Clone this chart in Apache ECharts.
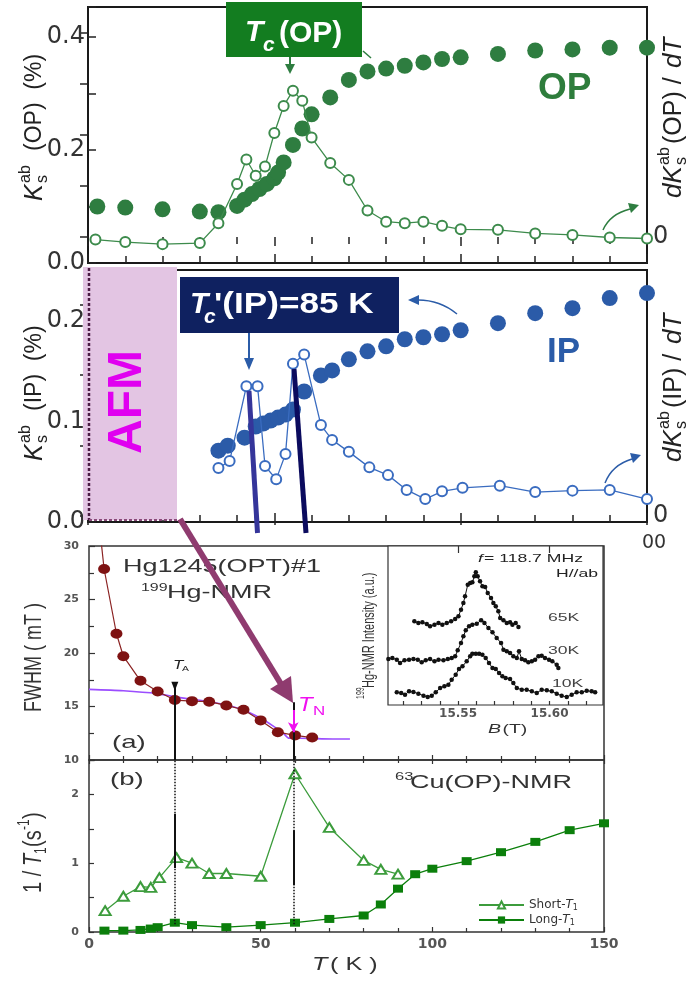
<!DOCTYPE html>
<html><head><meta charset="utf-8">
<script src="https://cdn.jsdelivr.net/npm/echarts@6.0.0/dist/echarts.min.js"></script>
<style>html,body{margin:0;padding:0;background:#fff}#c{width:699px;height:988px}</style>
</head><body><div id="c"></div>
<script>
// ---------- data ----------
const opT  = [5, 20, 40, 60, 70, 80, 84, 88, 92, 96, 100, 102, 105, 110, 115, 120, 130, 140, 150, 160, 170, 180, 190, 200, 220, 240, 260, 280, 300];
const opK  = [0.100, 0.098, 0.095, 0.091, 0.090, 0.101, 0.112, 0.122, 0.131, 0.140, 0.150, 0.160, 0.178, 0.209, 0.238, 0.263, 0.293, 0.324, 0.339, 0.344, 0.349, 0.355, 0.361, 0.364, 0.370, 0.376, 0.378, 0.381, 0.381];
const opdT = [4, 20, 40, 60, 70, 80, 85, 90, 95, 100, 105, 110, 115, 120, 130, 140, 150, 160, 170, 180, 190, 200, 220, 240, 260, 280, 300];
const opdK = [-0.05, -0.10, -0.14, -0.12, 0.27, 1.04, 1.52, 1.20, 1.38, 2.04, 2.57, 2.87, 2.67, 1.95, 1.45, 1.12, 0.52, 0.30, 0.27, 0.30, 0.22, 0.15, 0.14, 0.07, 0.04, -0.01, -0.03];
const ipT  = [70, 75, 84, 90, 94, 98, 102, 106, 110, 116, 125, 131, 140, 150, 160, 170, 180, 190, 200, 220, 240, 260, 280, 300];
const ipK  = [0.071, 0.076, 0.084, 0.095, 0.098, 0.101, 0.104, 0.107, 0.112, 0.130, 0.146, 0.151, 0.162, 0.170, 0.175, 0.182, 0.184, 0.187, 0.191, 0.198, 0.208, 0.213, 0.223, 0.228];
const ipdT = [70, 76, 85, 91, 95, 101, 106, 110, 116, 125, 131, 140, 151, 161, 171, 181, 190, 201, 221, 240, 260, 280, 300];
const ipdK = [0.68, 0.78, 1.84, 1.84, 0.71, 0.52, 0.88, 2.16, 2.29, 1.29, 1.08, 0.91, 0.69, 0.58, 0.37, 0.24, 0.35, 0.40, 0.43, 0.34, 0.36, 0.37, 0.24];
const fwT  = [2, 4.4, 8, 10, 15, 20, 25, 30, 35, 40, 45, 50, 55, 60, 65];
const fwV  = [35, 27.85, 21.8, 19.7, 17.4, 16.4, 15.6, 15.5, 15.45, 15.1, 14.7, 13.7, 12.6, 12.3, 12.1];
const fitT = [0, 10, 20, 25, 30, 35, 40, 45, 50, 54, 56.6, 58.3, 61.4, 71, 76];
const fitV = [16.6, 16.47, 16.2, 15.9, 15.67, 15.45, 15.14, 14.67, 13.9, 13.1, 12.5, 12.03, 12.03, 11.96, 11.96];
const shT  = [4.7, 10, 15, 18, 20.5, 25.5, 30, 35, 40, 50, 60, 70, 80, 85, 90];
const shV  = [0.31, 0.52, 0.66, 0.65, 0.79, 1.08, 1.0, 0.85, 0.85, 0.81, 2.30, 1.52, 1.04, 0.91, 0.84];
const loT  = [4.5, 10, 15, 18, 20, 25, 30, 40, 50, 60, 70, 80, 85, 90, 95, 100, 110, 120, 130, 140, 150];
const loV  = [0.02, 0.02, 0.03, 0.05, 0.07, 0.135, 0.10, 0.07, 0.10, 0.135, 0.19, 0.24, 0.40, 0.63, 0.84, 0.92, 1.03, 1.16, 1.31, 1.48, 1.58];
const b65 = [15.5261, 15.5283, 15.5305, 15.5329, 15.5347, 15.5371, 15.5393, 15.5414, 15.5438, 15.5462, 15.5484, 15.5502, 15.5516, 15.5529, 15.5538, 15.5553, 15.5566, 15.5578, 15.5589, 15.5597, 15.5607, 15.5620, 15.5633, 15.5648, 15.5662, 15.5680, 15.5693, 15.5706, 15.5720, 15.5730, 15.5748, 15.5766, 15.5784, 15.5797, 15.5815, 15.5830];
const i65 = [83.7, 82, 82.7, 81, 78.7, 80.3, 82, 80.3, 82, 83.7, 86, 88.7, 95.3, 102, 108.7, 120.3, 122, 122.7, 128.7, 132.7, 128.7, 123.7, 118.7, 118, 112, 107, 102, 98.7, 93.7, 87, 84.7, 82, 82.7, 80.3, 82, 78];
const b30 = [15.5119, 15.5141, 15.5165, 15.5183, 15.5207, 15.5232, 15.5256, 15.5280, 15.5301, 15.5323, 15.5347, 15.5371, 15.5393, 15.5420, 15.5444, 15.5465, 15.5484, 15.5498, 15.5516, 15.5529, 15.5542, 15.5560, 15.5578, 15.5602, 15.5626, 15.5644, 15.5666, 15.5688, 15.5711, 15.5735, 15.5748, 15.5766, 15.5784, 15.5802, 15.5821, 15.5833, 15.5848, 15.5866, 15.5884, 15.5903, 15.5921, 15.5939, 15.5957, 15.5975, 15.5997, 15.6015, 15.6039, 15.6048];
const i30 = [46, 47, 45.3, 42, 44.7, 45.3, 46, 45.3, 42.7, 44.7, 46, 43.7, 45.3, 44.7, 46, 47, 48.7, 54.7, 62, 68.7, 74.7, 78.7, 80.3, 81.3, 84.7, 82, 77, 72.7, 67, 62, 55.3, 53.7, 52, 48.7, 47, 53.7, 46, 44.7, 42.7, 43.7, 45.3, 48.7, 49.3, 47, 45.3, 43.7, 40.3, 37];
const b10 = [15.5165, 15.5189, 15.5210, 15.5232, 15.5256, 15.5283, 15.5311, 15.5334, 15.5356, 15.5378, 15.5402, 15.5425, 15.5447, 15.5465, 15.5487, 15.5505, 15.5524, 15.5547, 15.5566, 15.5578, 15.5597, 15.5615, 15.5633, 15.5651, 15.5669, 15.5688, 15.5706, 15.5724, 15.5742, 15.5760, 15.5784, 15.5802, 15.5821, 15.5848, 15.5875, 15.5903, 15.5930, 15.5957, 15.5985, 15.6012, 15.6039, 15.6066, 15.6094, 15.6121, 15.6148, 15.6176, 15.6203, 15.6230, 15.6249];
const i10 = [12.7, 12, 10.3, 13.7, 13, 11.3, 9.3, 8, 9.3, 12.7, 17, 18.7, 20.3, 25.3, 30.3, 36, 38.7, 43.7, 48.7, 51.3, 51.3, 51.3, 50.3, 47, 42, 37, 36, 32, 28.7, 27, 26, 22, 17, 15.3, 15.3, 13.7, 12, 15.3, 14.7, 13.7, 11.3, 9.3, 8, 10.3, 12.7, 12.7, 14.3, 13.7, 12.7];
const tA = 25, tN = 59.5;
// tick labels
const opYLabels = [0, 0.2, 0.4];
const ipYLabels = [0, 0.1, 0.2];
const opRightTicks = [0, 1, 2, 3, 4];
const ipRightTicks = [0, 1, 2, 3];
const rightLabels = [0];
const fwYLabels = [10, 15, 20, 25, 30];
const t1YLabels = [0, 1, 2];
const bTicks = [15.52, 15.53, 15.54, 15.55, 15.56, 15.57, 15.58, 15.59, 15.60, 15.61, 15.62];
const bLabels = [15.55, 15.60];

// ---------- chart ----------
const chart = echarts.init(document.getElementById('c'), null, {width: 699, height: 988});
const zip = (a, b) => a.map((v, i) => [v, b[i]]);
const near = (v, list) => list.some(t => Math.abs(v - t) < 1e-6);
const SANS = 'Liberation Sans';
const upLab = {fontFamily: 'DejaVu Sans', fontSize: 24, color: '#333'};
const loLab = {fontFamily: 'DejaVu Sans', fontWeight: 'bold', fontSize: 11, color: '#555'};
const tk = (len, c, w) => ({show: true, inside: true, length: len, lineStyle: {color: c || '#222', width: w || 1.5}});

const upperX = (gi, pos) => ({
  type: 'value', gridIndex: gi, position: pos, min: 0, max: 300, interval: 100,
  axisLine: {show: false}, splitLine: {show: false},
  axisTick: tk(9), minorTick: {show: true, splitNumber: 5, length: 7, lineStyle: {color: '#222', width: 1.5}},
  axisLabel: {show: false}
});
const lowerX = (gi, pos, len, labels) => ({
  type: 'value', gridIndex: gi, position: pos, min: 0, max: 150, interval: 50,
  axisLine: {show: false}, splitLine: {show: false},
  axisTick: tk(len, '#333', 1.2), minorTick: {show: true, splitNumber: 5, length: len - 1, lineStyle: {color: '#333', width: 1.2}},
  axisLabel: labels ? Object.assign({}, loLab, {fontSize: 14, margin: 5}) : {show: false}
});

// ---------- graphics ----------
function T(x, y, text, size, o) {
  o = o || {};
  const al = o.align || 'left', va = o.valign || 'middle';
  return {type: 'text', x: x, y: y, z: o.z || 60, scaleX: o.sx || 1, scaleY: o.sy || 1,
    style: {text: text, fill: o.color || '#222', fontSize: size, fontFamily: o.family || SANS,
      fontWeight: o.bold ? 'bold' : 'normal', fontStyle: o.italic ? 'italic' : 'normal',
      textAlign: al, align: al, textVerticalAlign: va, verticalAlign: va}};
}
function rot(x, y, children, sy) {
  return {type: 'group', x: x, y: y, rotation: Math.PI / 2, scaleY: sy || 1, z: 60, children: children};
}
const G = [];
// AFM region
G.push({type: 'rect', z: 5, shape: {x: 83, y: 267, width: 94, height: 253}, style: {fill: '#e3c5e3'}});
G.push({type: 'line', z: 6, shape: {x1: 89, y1: 268, x2: 89, y2: 520}, style: {stroke: '#4b1c44', lineWidth: 2.5, lineDash: [3, 2]}});
G.push({type: 'line', z: 6, shape: {x1: 89, y1: 520, x2: 177, y2: 520}, style: {stroke: '#8a4a7a', lineWidth: 2, lineDash: [3, 2]}});
G.push(rot(128, 402, [T(0, 0, 'AFM', 48, {bold: true, color: '#e000f0', align: 'center'})]));
// Tc(OP) box
G.push({type: 'rect', z: 50, shape: {x: 226, y: 2, width: 136, height: 55}, style: {fill: '#137d20'}});
G.push(T(245, 33, 'T', 30, {bold: true, italic: true, color: '#fff'}));
G.push(T(263, 45, 'c', 21, {bold: true, italic: true, color: '#fff'}));
G.push(T(279, 34, '(OP)', 30, {bold: true, color: '#fff'}));
G.push({type: 'line', z: 50, shape: {x1: 290, y1: 57, x2: 290, y2: 66}, style: {stroke: '#2e7d40', lineWidth: 2}});
G.push({type: 'polygon', z: 50, shape: {points: [[285, 64], [295, 64], [290, 74]]}, style: {fill: '#2e7d40'}});
G.push({type: 'line', z: 50, shape: {x1: 371, y1: 58, x2: 363, y2: 51}, style: {stroke: '#2e7d40', lineWidth: 1.5}});
G.push(T(538, 89, 'OP', 37, {bold: true, color: '#2e7d3c'}));
G.push({type: 'bezierCurve', z: 50, shape: {x1: 603, y1: 230, cpx1: 610, cpy1: 214, x2: 630, y2: 209}, style: {stroke: '#2e7d40', lineWidth: 1.5, fill: 'none'}});
G.push({type: 'polygon', z: 50, shape: {points: [[639, 205], [628, 203], [631, 213]]}, style: {fill: '#2e7d40'}});
// Tc'(IP) box
G.push({type: 'rect', z: 50, shape: {x: 180, y: 277, width: 219, height: 56}, style: {fill: '#0f2160'}});
G.push(T(190, 305, 'T', 30, {bold: true, italic: true, color: '#fff'}));
G.push(T(204, 317, 'c', 21, {bold: true, italic: true, color: '#fff'}));
G.push(T(214, 305, "'(IP)=85 K", 30, {bold: true, color: '#fff', sx: 1.17}));
G.push({type: 'line', z: 50, shape: {x1: 249, y1: 333, x2: 249, y2: 360}, style: {stroke: '#2b5ca8', lineWidth: 2}});
G.push({type: 'polygon', z: 50, shape: {points: [[244, 358], [254, 358], [249, 370]]}, style: {fill: '#2b5ca8'}});
G.push(T(547, 352, 'IP', 35, {bold: true, color: '#2b5ca8'}));
G.push({type: 'bezierCurve', z: 50, shape: {x1: 457, y1: 314, cpx1: 440, cpy1: 300, x2: 418, y2: 300}, style: {stroke: '#2b5ca8', lineWidth: 1.5, fill: 'none'}});
G.push({type: 'polygon', z: 50, shape: {points: [[408, 300], [419, 295], [419, 305]]}, style: {fill: '#2b5ca8'}});
G.push({type: 'bezierCurve', z: 50, shape: {x1: 605, y1: 483, cpx1: 612, cpy1: 465, x2: 632, y2: 459}, style: {stroke: '#2b5ca8', lineWidth: 1.5, fill: 'none'}});
G.push({type: 'polygon', z: 50, shape: {points: [[641, 455], [630, 453], [633, 463]]}, style: {fill: '#2b5ca8'}});
// axis titles upper
G.push(rot(35, 201, [T(0, 0, 'K', 25, {italic: true}), T(18, -9, 'ab', 16), T(18, 8, 's', 16), T(50, 0, '(OP)  (%)', 23)]));
G.push(rot(674, 198, [T(0, 0, 'dK', 26, {italic: true}), T(33, -9, 'ab', 16), T(33, 8, 's', 16), T(54, 0, '(OP) / ', 25), T(130, 0, 'dT', 26, {italic: true})]));
G.push(rot(35, 461, [T(0, 0, 'K', 25, {italic: true}), T(18, -9, 'ab', 16), T(18, 8, 's', 16), T(50, 0, '(IP)  (%)', 23)]));
G.push(rot(674, 462, [T(0, 0, 'dK', 26, {italic: true}), T(33, -9, 'ab', 16), T(33, 8, 's', 16), T(54, 0, '(IP) / ', 25), T(118, 0, 'dT', 26, {italic: true})]));
G.push(T(642, 543, '00', 19, {family: 'DejaVu Sans', color: '#333'}));
// connecting lines and arrow
G.push({type: 'line', z: 90, shape: {x1: 249, y1: 391, x2: 257.5, y2: 533}, style: {stroke: '#35359a', lineWidth: 5}});
G.push({type: 'line', z: 90, shape: {x1: 294, y1: 369, x2: 306, y2: 533}, style: {stroke: '#0b0b5e', lineWidth: 5}});
G.push({type: 'line', z: 95, shape: {x1: 180, y1: 519, x2: 281, y2: 684}, style: {stroke: '#8f3b6f', lineWidth: 6}});
G.push({type: 'polygon', z: 95, shape: {points: [[293, 703], [270, 689], [291, 676]]}, style: {fill: '#8f3b6f'}});
// lower texts
G.push(T(123, 567, 'Hg1245(OPT)#1', 18, {sx: 1.5, color: '#333'}));
G.push(T(141, 588, '199', 11, {sx: 1.45, color: '#333'}));
G.push(T(167, 593, 'Hg-NMR', 18, {sx: 1.5, color: '#333'}));
G.push(T(112, 743, '(a)', 19, {sx: 1.45, color: '#333'}));
G.push(T(110, 780, '(b)', 19, {sx: 1.45, color: '#333'}));
G.push(T(395, 777, '63', 11, {sx: 1.5, color: '#333'}));
G.push(T(410, 783, 'Cu(OP)-NMR', 18, {sx: 1.5, color: '#333'}));
G.push(T(173, 665, 'T', 13, {italic: true, sx: 1.3}));
G.push(T(182, 669, 'A', 8, {sx: 1.3}));
G.push(T(298, 705, 'T', 20, {italic: true, sx: 1.2, color: '#f010f0'}));
G.push(T(313, 711, 'N', 13, {sx: 1.3, color: '#f010f0'}));
G.push(rot(35, 712, [T(0, 0, 'FWHM ( mT )', 18, {color: '#333'})], 1.3));
G.push(rot(34, 893, [T(0, 0, '1 / ', 20, {color: '#333'}), T(27, 0, 'T', 20, {italic: true, color: '#333'}), T(39, 6, '1', 12, {color: '#333'}), T(46, 0, '(s', 20, {color: '#333'}), T(63, -7, '-1', 12, {color: '#333'}), T(74, 0, ')', 20, {color: '#333'})], 1.3));
G.push(T(312, 965, 'T', 18, {italic: true, sx: 1.4, color: '#333'}));
G.push(T(323, 965, ' ( K )', 18, {sx: 1.4, color: '#333'}));
// inset texts
G.push(T(478, 559, 'f', 11, {italic: true, sx: 1.6}));
G.push(T(484, 559, '= 118.7 MHz', 11, {sx: 1.6}));
G.push(T(598, 574, 'H//ab', 11, {sx: 1.6, align: 'right'}));
G.push(T(548, 618, '65K', 11, {sx: 1.6, color: '#444'}));
G.push(T(548, 651, '30K', 11, {sx: 1.6, color: '#444'}));
G.push(T(552, 684, '10K', 11, {sx: 1.6, color: '#444'}));
G.push(T(488, 729, 'B', 13, {italic: true, sx: 1.5, color: '#333'}));
G.push(T(497, 729, ' (T)', 13, {sx: 1.5, color: '#333'}));
G.push(rot(369, 699, [T(0, -5, '199', 7, {color: '#333'}), T(11, 0, 'Hg-NMR Intensity (a.u.)', 11, {color: '#333'})], 1.5));

const line = (c) => ({color: c, width: 1.3});
const option = {
  animation: false,
  backgroundColor: '#fff',
  grid: [
    {left: 88, top: 7, width: 559, height: 256, show: true, borderColor: '#1a1a1a', borderWidth: 2},
    {left: 88, top: 270, width: 559, height: 252, show: true, borderColor: '#1a1a1a', borderWidth: 2},
    {left: 89, top: 546, width: 515, height: 214, show: true, borderColor: '#333', borderWidth: 1.5},
    {left: 89, top: 760, width: 515, height: 172, show: true, borderColor: '#333', borderWidth: 1.5},
    {left: 388, top: 546, width: 215, height: 159, show: true, borderColor: '#333', borderWidth: 1.2, backgroundColor: '#fff'}
  ],
  xAxis: [
    upperX(0, 'bottom'), upperX(0, 'top'), upperX(1, 'bottom'), upperX(1, 'top'),
    lowerX(2, 'bottom', 5, false), lowerX(3, 'bottom', 5, true), lowerX(3, 'top', 4, false),
    {type: 'value', gridIndex: 4, min: 15.5117, max: 15.6292, axisLine: {show: false}, splitLine: {show: false},
     axisTick: {show: true, inside: true, length: 4, customValues: bTicks, lineStyle: {color: '#333', width: 1.2}},
     axisLabel: Object.assign({}, loLab, {fontSize: 12, margin: 3, customValues: bLabels, formatter: v => (+v).toFixed(2)})},
    {type: 'value', gridIndex: 4, min: 15.5117, max: 15.6292, axisLine: {show: false}, splitLine: {show: false},
     axisTick: {show: true, inside: true, length: 7, customValues: bLabels, lineStyle: {color: '#333', width: 1.2}},
     axisLabel: {show: false}}
  ],
  yAxis: [
    {type: 'value', gridIndex: 0, min: 0, max: 0.453, interval: 0.1, axisLine: {show: false}, splitLine: {show: false},
     axisTick: tk(8), axisLabel: Object.assign({}, upLab, {margin: 3, formatter: v => near(v, opYLabels) ? v.toFixed(1) : ''})},
    {type: 'value', gridIndex: 0, position: 'right', min: -0.51, max: 4.51, axisLine: {show: false}, splitLine: {show: false},
     axisTick: Object.assign(tk(8), {customValues: opRightTicks}),
     axisLabel: Object.assign({}, upLab, {margin: 6, customValues: rightLabels, formatter: v => String(Math.round(v))})},
    {type: 'value', gridIndex: 1, min: 0, max: 0.251, interval: 0.05, axisLine: {show: false}, splitLine: {show: false},
     axisTick: tk(8), axisLabel: Object.assign({}, upLab, {margin: 3, formatter: v => near(v, ipYLabels) ? v.toFixed(1) : ''})},
    {type: 'value', gridIndex: 1, position: 'right', min: -0.085, max: 3.49, axisLine: {show: false}, splitLine: {show: false},
     axisTick: Object.assign(tk(8), {customValues: ipRightTicks}),
     axisLabel: Object.assign({}, upLab, {margin: 6, customValues: rightLabels, formatter: v => String(Math.round(v))})},
    {type: 'value', gridIndex: 2, min: 10, max: 30, interval: 5, axisLine: {show: false}, splitLine: {show: false},
     axisTick: tk(6, '#333', 1.2), minorTick: {show: true, splitNumber: 2, length: 5, lineStyle: {color: '#333', width: 1.2}},
     axisLabel: Object.assign({}, loLab, {margin: 10, formatter: v => near(v, fwYLabels) ? String(v) : ''})},
    {type: 'value', gridIndex: 3, min: 0, max: 2.5, interval: 0.5, axisLine: {show: false}, splitLine: {show: false},
     axisTick: tk(5, '#333', 1.2),
     axisLabel: Object.assign({}, loLab, {margin: 10, formatter: v => near(v, t1YLabels) ? String(v) : ''})},
    {type: 'value', gridIndex: 4, min: 0, max: 159, axisLine: {show: false}, splitLine: {show: false},
     axisTick: {show: false}, axisLabel: {show: false}}
  ],
  legend: {
    data: ['Short-T1', 'Long-T1'], orient: 'vertical', left: 473, top: 894, itemWidth: 45, itemHeight: 9, itemGap: 2,
    formatter: n => n === 'Short-T1' ? '{n|Short-}{i|T}{s|1}' : '{n|Long-}{i|T}{s|1}',
    textStyle: {color: '#333', rich: {
      n: {fontFamily: 'DejaVu Sans', fontSize: 12, lineHeight: 14, color: '#333'},
      i: {fontFamily: 'DejaVu Sans', fontSize: 12, fontStyle: 'italic', lineHeight: 14, color: '#333'},
      s: {fontFamily: 'DejaVu Sans', fontSize: 8, lineHeight: 14, verticalAlign: 'bottom', color: '#333'}}}
  },
  graphic: {elements: G},
  series: [
    {name: 'Ks OP', type: 'scatter', xAxisIndex: 0, yAxisIndex: 0, data: zip(opT, opK), symbolSize: 16,
     itemStyle: {color: '#2e7d40', opacity: 1}},
    {name: 'dK OP', type: 'line', xAxisIndex: 0, yAxisIndex: 1, data: zip(opdT, opdK), symbol: 'emptyCircle', symbolSize: 10,
     itemStyle: {color: '#3d8b4c', borderWidth: 1.4}, lineStyle: line('#3d8b4c')},
    {name: 'Ks IP', type: 'scatter', xAxisIndex: 2, yAxisIndex: 2, data: zip(ipT, ipK), symbolSize: 16,
     itemStyle: {color: '#2b5ba8', opacity: 1}},
    {name: 'dK IP', type: 'line', xAxisIndex: 2, yAxisIndex: 3, data: zip(ipdT, ipdK), symbol: 'emptyCircle', symbolSize: 10,
     itemStyle: {color: '#3a6cc0', borderWidth: 1.4}, lineStyle: line('#3a6cc0')},
    {name: 'fit', type: 'line', xAxisIndex: 4, yAxisIndex: 4, data: zip(fitT, fitV), symbol: 'none', smooth: 0.25,
     lineStyle: {color: '#9b4dff', width: 1.6}},
    {name: 'FWHM', type: 'line', xAxisIndex: 4, yAxisIndex: 4, data: zip(fwT, fwV), symbol: 'circle', symbolSize: [12, 10],
     itemStyle: {color: '#7e1212'}, lineStyle: {color: '#8b2323', width: 1.2},
     markLine: {silent: true, symbol: ['none', 'none'], label: {show: false}, animation: false,
       data: [
         [{coord: [tA, 17.3], lineStyle: {color: '#111', width: 2, type: 'solid'}}, {coord: [tA, 10]}],
         [{coord: [tN, 15.4], lineStyle: {color: '#111', width: 2, type: 'solid'}}, {coord: [tN, 10]}],
         [{coord: [tN, 14.67], symbol: 'none', lineStyle: {color: '#f010f0', width: 2, type: 'solid'}}, {coord: [tN, 12.6], symbol: 'arrow', symbolSize: [8, 10]}]
       ]},
     markPoint: {silent: true, label: {show: false},
       data: [{coord: [tA, 16.9], symbol: 'triangle', symbolRotate: 180, symbolSize: [7, 9], itemStyle: {color: '#111'}}]}},
    {name: 'Short-T1', type: 'line', xAxisIndex: 5, yAxisIndex: 5, data: zip(shT, shV), symbol: 'emptyTriangle', symbolSize: [11, 9],
     itemStyle: {color: '#3c9c3c', borderWidth: 1.3}, lineStyle: line('#3c9c3c')},
    {name: 'Long-T1', type: 'line', xAxisIndex: 5, yAxisIndex: 5, data: zip(loT, loV), symbol: 'rect', symbolSize: [10, 8],
     itemStyle: {color: '#0b7f0b'}, lineStyle: line('#0b7f0b'),
     markLine: {silent: true, symbol: ['none', 'none'], label: {show: false}, animation: false,
       data: [
         [{coord: [tA, 2.49], lineStyle: {color: '#111', width: 1.5, type: 'dotted'}}, {coord: [tA, 0.1]}],
         [{coord: [tN, 2.49], lineStyle: {color: '#111', width: 1.5, type: 'dotted'}}, {coord: [tN, 0.1]}],
         [{coord: [tA, 1.72], lineStyle: {color: '#111', width: 2, type: 'solid'}}, {coord: [tA, 0.93]}],
         [{coord: [tN, 1.48], lineStyle: {color: '#111', width: 2, type: 'solid'}}, {coord: [tN, 0.68]}]
       ]}},
    {name: '65K', type: 'line', xAxisIndex: 7, yAxisIndex: 6, data: zip(b65, i65), symbol: 'circle', symbolSize: 4.5,
     itemStyle: {color: '#111'}, lineStyle: {color: '#111', width: 1}},
    {name: '30K', type: 'line', xAxisIndex: 7, yAxisIndex: 6, data: zip(b30, i30), symbol: 'circle', symbolSize: 4.5,
     itemStyle: {color: '#111'}, lineStyle: {color: '#111', width: 1}},
    {name: '10K', type: 'line', xAxisIndex: 7, yAxisIndex: 6, data: zip(b10, i10), symbol: 'circle', symbolSize: 4.5,
     itemStyle: {color: '#111'}, lineStyle: {color: '#111', width: 1}}
  ]
};
chart.setOption(option);
</script></body></html>
